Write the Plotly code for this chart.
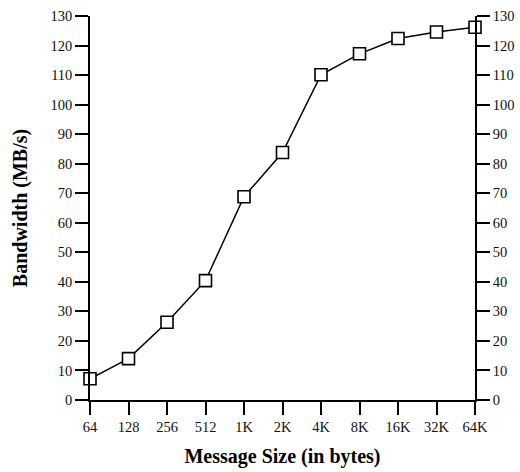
import plotly.graph_objects as go

sizes = ["64", "128", "256", "512", "1K", "2K", "4K", "8K", "16K", "32K", "64K"]
bandwidth = [7.2, 14.0, 26.3, 40.4, 68.8, 83.8, 110.1, 117.2, 122.4, 124.6, 126.2]
y_ticks = list(range(0, 131, 10))

xpos = list(range(len(sizes)))
font = "Liberation Serif, Times New Roman, serif"

fig = go.Figure()
fig.add_trace(go.Scatter(
    x=xpos, y=bandwidth, mode="lines",
    line=dict(color="black", width=1.5),
    cliponaxis=False, showlegend=False,
))
fig.add_trace(go.Scatter(
    x=xpos, y=bandwidth, mode="markers",
    marker=dict(symbol="square", size=12, color="white", line=dict(color="black", width=1.6)),
    cliponaxis=False, showlegend=False,
))
fig.add_trace(go.Scatter(
    x=xpos, y=bandwidth, mode="markers", yaxis="y2",
    marker=dict(opacity=0), showlegend=False, hoverinfo="skip",
))

axis_common = dict(showgrid=False, zeroline=False, showline=True, linecolor="black",
                   linewidth=1.5, ticks="outside", ticklen=13, tickwidth=1.5,
                   tickcolor="black", automargin=False,
                   tickfont=dict(family=font, size=14.5, color="#111"))

fig.update_layout(
    width=520, height=472,
    margin=dict(l=90, r=45, t=16, b=72),
    plot_bgcolor="white", paper_bgcolor="white",
    xaxis=dict(range=[0, 10], tickmode="array", tickvals=xpos, ticktext=sizes,
               title=dict(text="<b>Message Size (in bytes)</b>", standoff=15,
                          font=dict(family=font, size=20, color="black")),
               **axis_common),
    yaxis=dict(range=[0, 130], tickmode="array", tickvals=y_ticks,
               title=dict(text="<b>Bandwidth (MB/s)</b>", standoff=18,
                          font=dict(family=font, size=20, color="black")),
               **axis_common),
    yaxis2=dict(range=[0, 130], tickmode="array", tickvals=y_ticks, overlaying="y",
                side="right", **axis_common),
)

fig.write_html("out.html")
